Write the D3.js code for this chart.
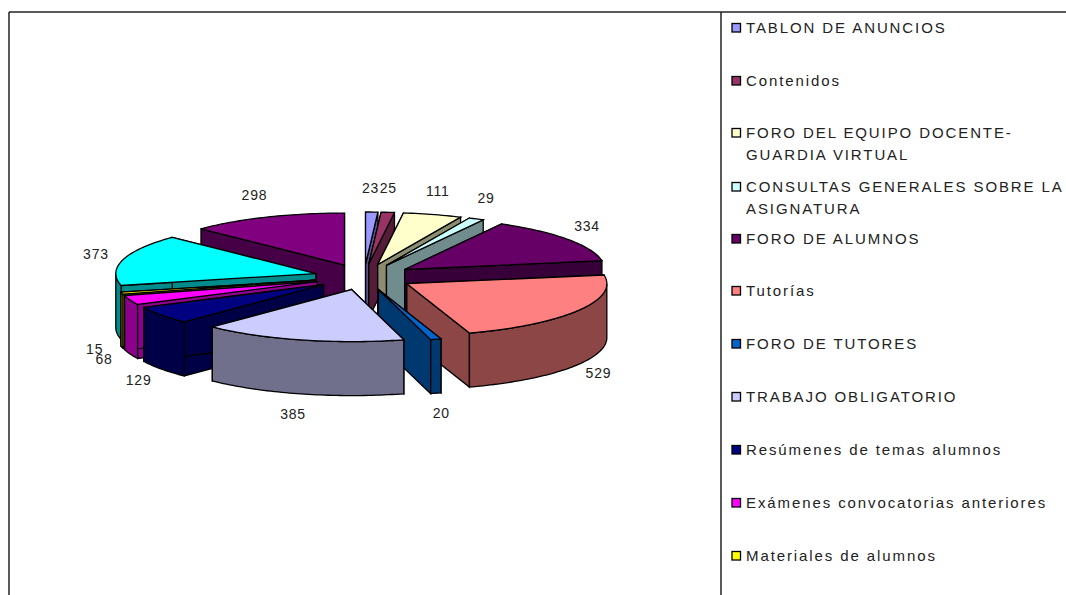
<!DOCTYPE html>
<html>
<head>
<meta charset="utf-8">
<script src="https://cdn.jsdelivr.net/npm/d3@7"></script>
<style>
    html, body { margin: 0; padding: 0; background: #fff; overflow: hidden; }
    svg { display: block; }
    text { font-family: "Liberation Sans", Arial, sans-serif; fill: #222; }
</style>
</head>
<body>
<div id="chart"></div>
<script>
// clockwise from 12 o'clock
const values = [23, 25, 111, 29, 334, 529, 20, 385, 129, 68, 15, 373, 298];
const topColors = ["#9999ff", "#993366", "#ffffcc", "#ccffff", "#660066", "#ff8080", "#0066cc",
    "#ccccff", "#000080", "#ff00ff", "#ffff00", "#00ffff", "#800080"];
// legend runs off the bottom of the picture, only the first 11 can be seen
const legendNames = [
    ["TABLON DE ANUNCIOS"],
    ["Contenidos"],
    ["FORO DEL EQUIPO DOCENTE-", "GUARDIA VIRTUAL"],
    ["CONSULTAS GENERALES SOBRE LA", "ASIGNATURA"],
    ["FORO DE ALUMNOS"],
    ["Tutorías"],
    ["FORO DE TUTORES"],
    ["TRABAJO OBLIGATORIO"],
    ["Resúmenes de temas alumnos"],
    ["Exámenes convocatorias anteriores"],
    ["Materiales de alumnos"]
];
const legendRows = [28, 81, 133, 187, 239, 291, 344, 397, 450, 503, 556];

let width = 1066,
    height = 595;

let cx = 364, cy = 277;        // centre of the unexploded pie
let rx = 200, ry = 52;         // tilted radius
let explodeX = 50, explodeY = 13;
let labelCx = 362, labelCy = 278;
let labelX = 276, labelY = 90, labelDepth = 49;
let depth = 54;

let svg = d3.select("#chart")
    .append("svg")
    .attr("width", width)
    .attr("height", height);

createFrame();
createSlices();
createLabels();
createLegend();

function createFrame() {
    let lines = [[9, 12, 1066, 12], [9, 12, 9, 595], [721, 12, 721, 595]];
    svg.selectAll(".frame")
        .data(lines)
        .enter().append("line")
        .attr("class", "frame")
        .attr("x1", d => d[0])
        .attr("y1", d => d[1])
        .attr("x2", d => d[2])
        .attr("y2", d => d[3])
        .attr("stroke", "#222")
        .attr("stroke-width", 1.5);
}

function wallColor(c) {
    let rgb = d3.rgb(c);
    // walls are the top colour taken down towards black
    return d3.rgb(rgb.r * 0.55, rgb.g * 0.55, rgb.b * 0.55).formatHex();
}

function createSlices() {
    let pie = d3.pie().sort(null).value(d => d);
    let arcs = pie(values).map(function (d, i) {
        d.mid = (d.startAngle + d.endAngle) / 2;
        d.color = topColors[i];
        return d;
    });

    // back slices first, so the front ones paint over them
    arcs.sort((a, b) => Math.cos(b.mid) - Math.cos(a.mid));

    let line = d3.line().x(d => d[0]).y(d => d[1]);

    arcs.forEach(function (d) {
        let ox = cx + Math.sin(d.mid) * explodeX;
        let oy = cy - Math.cos(d.mid) * explodeY;
        let rim = a => [ox + Math.sin(a) * rx, oy - Math.cos(a) * ry];
        let down = p => [p[0], p[1] + depth];
        let apex = [ox, oy];

        let g = svg.append("g").attr("class", "slice");
        let wall = wallColor(d.color);

        [d.startAngle, d.endAngle].forEach(function (a) {
            g.append("path")
                .attr("d", line([apex, rim(a), down(rim(a)), down(apex)]) + "Z")
                .attr("fill", wall)
                .attr("stroke", "#000")
                .attr("stroke-width", 1.3);
        });

        // outer wall, only the part that faces the viewer
        let from = Math.max(d.startAngle, Math.PI / 2);
        let to = Math.min(d.endAngle, Math.PI * 1.5);
        if (to > from) {
            let angles = d3.range(from, to, 0.02).concat(to);
            let pts = angles.map(rim);
            g.append("path")
                .attr("d", line(pts.concat(pts.slice().reverse().map(down))) + "Z")
                .attr("fill", wall)
                .attr("stroke", "#000")
                .attr("stroke-width", 1.3);
        }

        let topAngles = d3.range(d.startAngle, d.endAngle, 0.02).concat(d.endAngle);
        g.append("path")
            .attr("d", line([apex].concat(topAngles.map(rim))) + "Z")
            .attr("fill", d.color)
            .attr("stroke", "#000")
            .attr("stroke-width", 1.3);
    });
}

function createLabels() {
    let pie = d3.pie().sort(null).value(d => d);
    svg.selectAll(".value-label")
        .data(pie(values))
        .enter().append("text")
        .attr("class", "value-label")
        .attr("text-anchor", "middle")
        .attr("font-size", 14)
        .attr("letter-spacing", 0.8)
        .attr("x", function (d) {
            return labelCx + Math.sin((d.startAngle + d.endAngle) / 2) * labelX;
        })
        .attr("y", function (d) {
            let c = Math.cos((d.startAngle + d.endAngle) / 2);
            return labelCy - c * labelY + (c < 0 ? labelDepth : 0) + 5;
        })
        .text(d => d.value);
}

function createLegend() {
    let rows = svg.selectAll(".legend-row")
        .data(legendNames)
        .enter().append("g")
        .attr("class", "legend-row")
        .attr("transform", (d, i) => "translate(732," + legendRows[i] + ")");

    rows.append("rect")
        .attr("x", 0)
        .attr("y", -4.5)
        .attr("width", 8.5)
        .attr("height", 8.5)
        .attr("fill", (d, i) => topColors[i])
        .attr("stroke", "#000")
        .attr("stroke-width", 1.3);

    rows.selectAll("text")
        .data(d => d)
        .enter().append("text")
        .attr("x", 14)
        .attr("y", (d, i) => 5 + i * 22)
        .attr("font-size", 15)
        .attr("letter-spacing", 1.9)
        .text(d => d);
}
</script>
</body>
</html>
